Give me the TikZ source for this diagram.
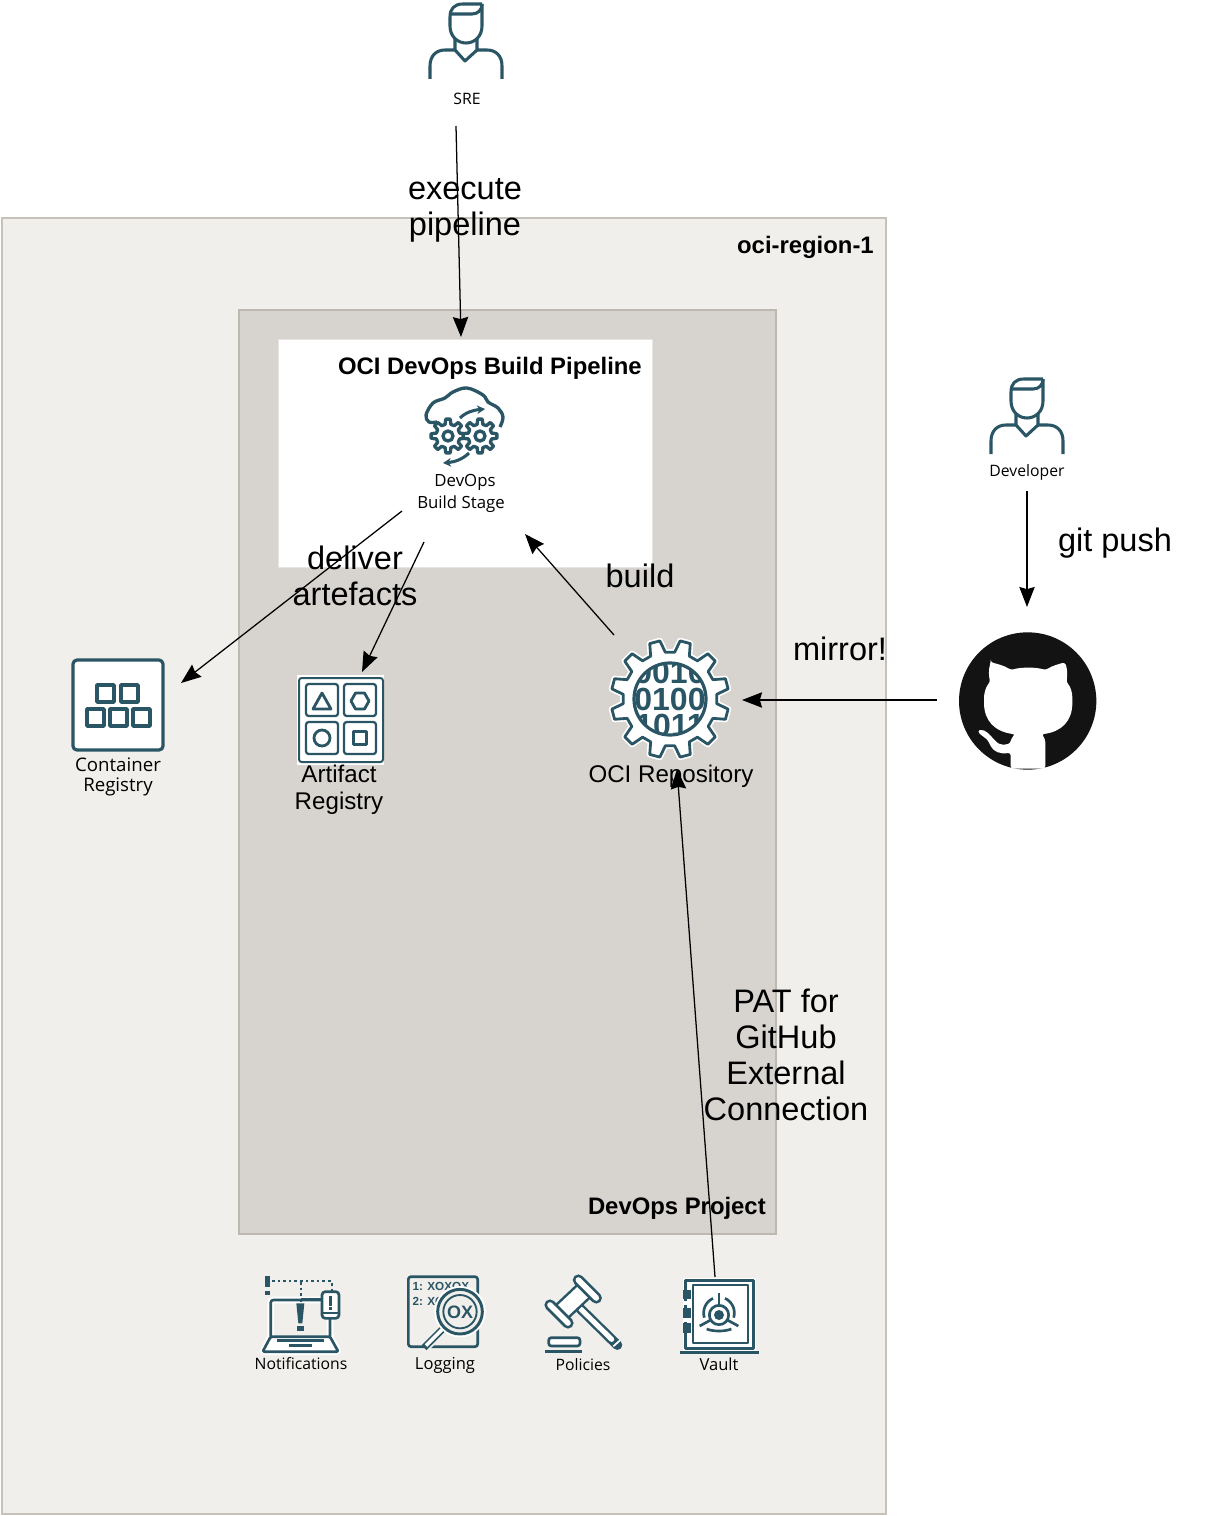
\documentclass[tikz,border=0pt]{standalone}
\usepackage{fontspec}
\setmainfont{Liberation Sans}
\newfontfamily\iconfont{Open Sans}
\usetikzlibrary{arrows.meta}
\definecolor{teal}{HTML}{2A5565}
\definecolor{regionbg}{HTML}{F0EFEB}
\definecolor{regionln}{HTML}{C6C2BA}
\definecolor{projbg}{HTML}{D7D4CF}
\definecolor{projln}{HTML}{BDB9B0}
\definecolor{ghblack}{HTML}{131313}
\tikzset{
  x=.75pt,y=-.75pt,
  region/.style={draw=regionln,fill=regionbg,line width=1.4pt,outer sep=0pt},
  project/.style={draw=projln,fill=projbg,line width=1.4pt,outer sep=0pt},
  panel/.style={draw=projbg!60!white,fill=white,line width=.6pt,outer sep=0pt},
  boldlabel/.style={inner sep=0,anchor=east,font=\bfseries\fontsize{17.9}{21}\selectfont},
  biglabel/.style={inner sep=0,align=center,text=black,font=\fontsize{24.4}{27}\selectfont},
  midlabel/.style={inner sep=0,align=center,text=black,font=\fontsize{18.1}{20.6}\selectfont},
  iconlabel/.style={inner sep=0,align=center,text=black,font=\iconfont\fontsize{11.8}{15}\selectfont},
  iconline/.style={draw=teal,line width=2.1pt,line join=round},
  thinicon/.style={draw=teal,line width=1.7pt,line join=round},
  connector/.style={draw=black,line width=.95pt,-{Stealth[length=15pt,width=11.5pt,inset=1.6pt]}}
}
% #1 style, #2 centre, #3 teeth, #4 offset, #5 root radius, #6 tip radius
\newcommand{\geardraw}[6]{%
  \begin{scope}[shift={#2}]
  \draw[#1] (#4-180/#3*.62:#5)
    \foreach \k in {1,...,#3}{
      -- (#4+\k*360/#3-360/#3-180/#3*.62:#5)
      -- (#4+\k*360/#3-360/#3-180/#3*.34:#6)
      -- (#4+\k*360/#3-360/#3+180/#3*.34:#6)
      -- (#4+\k*360/#3-360/#3+180/#3*.62:#5)
    } -- cycle;
  \end{scope}}
% person icon, in pixels from its top left corner
\newcommand{\personicon}[1]{%
  \begin{scope}[shift={#1}]
  \draw[iconline,line width=2.3pt] (82,4) -- (63,4) .. controls (54,4) and (50,9) .. (50,17) -- (50,26)
     .. controls (50,36) and (57,43) .. (66,43) .. controls (75,43) and (82,36) .. (82,26) -- (82,4);
  \draw[iconline,line width=2.3pt] (50,14) -- (72,14) .. controls (78,14) and (82,10) .. (82,4);
  \draw[iconline,line width=2.3pt] (55,38) -- (55,50) -- (65,61) -- (77,50) -- (77,38);
  \draw[iconline,line width=2.3pt] (30,79) -- (30,66) .. controls (30,56) and (36,50) .. (45,50) -- (55,50);
  \draw[iconline,line width=2.3pt] (102,79) -- (102,66) .. controls (102,56) and (96,50) .. (87,50) -- (77,50);
  \end{scope}}
\begin{document}
\begin{tikzpicture}
\path[use as bounding box,fill=white] (0,0) rectangle (1218,1516);

% containers
\node[region,inner sep=0,minimum width=663pt,minimum height=972pt,anchor=north west] (regionbox) at (2,218) {};
\node[project,inner sep=0,minimum width=403pt,minimum height=693pt,anchor=north west] (projectbox) at (239,310) {};
\node[panel,inner sep=0,minimum width=280.5pt,minimum height=171pt,anchor=north west] (pipelinebox) at (278,339) {};
\node[boldlabel] (regionlabel) at (874,247) {oci-region-1};
\node[boldlabel] (pipelinelabel) at (642,368) {OCI DevOps Build Pipeline};
\node[boldlabel] (projectlabel) at (766,1208) {DevOps Project};

% persons
\personicon{(400,0)}
\personicon{(961,375)}
\node[iconlabel] (srelabel) at (467,99) {SRE};
\node[iconlabel] (devlabel) at (1027,472) {Developer};

% DevOps build stage icon
\draw[iconline,line width=2.5pt] plot[smooth,tension=.6] coordinates {(437,422) (429,422) (426,415) (433,403) (445,398) (453,392) (467,388) (483,395) (488,402) (498,408) (503,417) (500,427)};
\draw[iconline,line width=2.3pt,-{Stealth[length=6pt,width=6.5pt]}] (460,418) .. controls (466,412) and (474,410) .. (485,409);
\draw[iconline,line width=2.3pt,-{Stealth[length=6pt,width=6.5pt]}] (469,453) .. controls (463,459) and (455,462) .. (443,463);
\geardraw{iconline,line width=2.5pt,fill=white}{(448,436)}{8}{0}{12}{17}
\geardraw{iconline,line width=2.5pt,fill=white}{(480,436)}{8}{0}{12}{17}
\draw[iconline,line width=2.5pt] (448,436) circle[radius=5];
\draw[iconline,line width=2.5pt] (480,436) circle[radius=5];
\node[iconlabel,font=\iconfont\fontsize{12.6}{15}\selectfont] (stagea) at (465,482) {DevOps};
\node[iconlabel,font=\iconfont\fontsize{12.6}{15}\selectfont] (stageb) at (461,504) {Build Stage};

% container registry
\draw[iconline,line width=2.4pt,fill=white,rounded corners=3pt] (73,660) rectangle (163,750);
\foreach \ax/\ay in {97/685,121/685,87/709,110/709,133/709}
  \draw[iconline,line width=2.6pt] (\ax,\ay) rectangle ++(17,17);
\node[iconlabel,font=\iconfont\fontsize{14}{15}\selectfont] (crlabel) at (118,777) {Container\\Registry};

% artifact registry
\fill[white] (297,675) rectangle (384,765);
\draw[iconline,line width=1.5pt,rounded corners=2pt] (299,678) rectangle (383,762);
\foreach \ax/\ay in {306/684,344/684,306/722,344/722}
  \draw[iconline,line width=1.7pt,rounded corners=2pt] (\ax,\ay) rectangle ++(32,32);
\draw[iconline] (322,693) -- (331,709) -- (313,709) -- cycle;
\draw[iconline] (351,701) -- (355.5,693) -- (364.5,693) -- (369,701) -- (364.5,709) -- (355.5,709) -- cycle;
\draw[iconline] (322,738) circle[radius=8];
\draw[iconline] (353.5,731.5) rectangle (366.5,744.5);
\node[midlabel] (arlabel) at (339,790) {Artifact\\Registry};

% OCI repository icon
\geardraw{draw=white,line width=4.6pt,line join=round,fill=white}{(670,699)}{12}{15}{47}{59}
\geardraw{iconline,line width=2.1pt,fill=white}{(670,699)}{12}{15}{47}{59}
\begin{scope}
  \clip (670,699) circle[radius=36];
  \node[inner sep=0,align=center,text=teal,font=\bfseries\fontsize{24}{20.2}\selectfont] (bits) at (670,699) {0010\\0100\\1011};
\end{scope}
\draw[iconline,line width=2.4pt] (670,699) circle[radius=36];
\node[midlabel] (repolabel) at (671,776) {OCI Repository};

% GitHub mark
\begin{scope}[shift={(940,621)},x=.25pt,y=-.25pt]
  \fill[ghblack] (263,240) circle[radius=206];
  \fill[white,rounded corners=2pt] (152,124) .. controls (170,128) and (195,135) .. (212,147)
     .. controls (245,138) and (285,138) .. (318,147) .. controls (335,135) and (360,128) .. (375,124)
     .. controls (382,145) and (383,165) .. (378,182) .. controls (392,197) and (397,215) .. (397,238)
     .. controls (397,300) and (365,332) .. (304,340) .. controls (312,348) and (316,358) .. (316,372)
     -- (316,443) -- (212,443) -- (212,395) .. controls (180,400) and (160,392) .. (148,367)
     .. controls (140,352) and (125,345) .. (112,330) .. controls (135,322) and (152,345) .. (165,358)
     .. controls (178,372) and (195,372) .. (212,366) .. controls (213,355) and (218,347) .. (226,340)
     .. controls (165,332) and (132,300) .. (132,238) .. controls (132,215) and (138,197) .. (151,182)
     .. controls (146,165) and (146,145) .. (152,124) -- cycle;
\end{scope}

% notifications icon
\begin{scope}[shift={(250,1265)},x=.25pt,y=-.25pt]
  \draw[thinicon,draw=white,line width=5pt,rounded corners=2pt] (62,215) -- (62,105) -- (240,105) -- (240,215) -- (265,260) -- (38,260) -- cycle;
  \draw[thinicon,line width=2pt,rounded corners=2pt] (62,215) -- (62,105) -- (240,105) -- (240,215);
  \draw[thinicon,line width=2pt,rounded corners=1pt,fill=white] (62,215) -- (240,215) -- (265,260) -- (38,260) -- cycle;
  \draw[teal,line width=2pt] (80,226) -- (222,226);
  \draw[teal,line width=2pt] (118,241) -- (186,241);
  \draw[teal,line width=1.4pt,dash pattern=on 2pt off 2.2pt] (66,48) -- (245,48) -- (245,78);
  \draw[teal,line width=1.5pt,dash pattern=on 2.2pt off 2.2pt] (152,50) -- (152,112);
  \draw[teal,line width=1.5pt] (152,102) -- (215,102);
  \fill[teal] (46,33) rectangle (59,65);
  \fill[teal] (46,78) rectangle (59,90);
  \fill[teal] (139,115) -- (163,115) -- (157,175) -- (145,175) -- cycle;
  \fill[teal] (141,183) rectangle (161,197);
  \draw[thinicon,line width=2pt,fill=white,rounded corners=2.5pt] (216,80) rectangle (267,160);
  \draw[teal,line width=1.4pt] (216,145) -- (267,145);
  \fill[teal] (236,92) rectangle (246,122);
  \fill[teal] (236,127) rectangle (246,136);
\end{scope}
\node[iconlabel] (notiflabel) at (301,1364) {Notifications};

% logging icon
\begin{scope}[shift={(250,1265)},x=.25pt,y=-.25pt]
  \draw[thinicon,line width=2pt,rounded corners=2pt] (475,35) rectangle (683,245);
  \node[inner sep=0,anchor=west,text=teal,font=\bfseries\fontsize{8.8}{9}\selectfont] (loga) at (487,65) {1: XOXOX};
  \node[inner sep=0,anchor=west,text=teal,font=\bfseries\fontsize{8.8}{9}\selectfont] (logb) at (487,110) {2: XO};
  \draw[draw=regionbg,line width=8pt] (525,245) -- (580,190);
  \draw[draw=teal,line width=5.2pt] (522,248) -- (578,192);
  \draw[draw=white,line width=2.6pt] (528,242) -- (576,194);
  \draw[teal,line width=1.6pt,fill=regionbg,draw=white] (630,140) circle[radius=74];
  \draw[thinicon,line width=2.2pt,fill=regionbg] (630,140) circle[radius=67];
  \draw[thinicon,line width=1.4pt] (630,140) circle[radius=50];
  \node[inner sep=0,text=teal,font=\bfseries\fontsize{13.5}{14}\selectfont] (logc) at (630,141) {OX};
\end{scope}
\node[iconlabel,font=\iconfont\fontsize{12.4}{15}\selectfont] (loglabel) at (445,1365) {Logging};

% policies icon
\begin{scope}[shift={(530,1265)},x=.25pt,y=-.25pt]
  \draw[teal,line width=7.4pt,line cap=round] (150,130) -- (262,240);
  \draw[white,line width=3.8pt,line cap=round] (152,132) -- (245,223);
  \draw[white,line width=1.3pt] (250,244) -- (270,226);
  \draw[teal,line width=15pt] (87,148) -- (170,70);
  \draw[white,line width=11.2pt] (87,148) -- (170,70);
  \foreach \ca/\cb in {145/45,60/120}{
    \draw[teal,line width=8.4pt,line cap=round] (\ca,\cb) -- ++(54,54);
    \draw[white,line width=4.2pt,line cap=round] (\ca,\cb) -- ++(54,54);
  }
  \draw[thinicon,line width=2pt,fill=white,rounded corners=2pt] (56,218) rectangle (150,243);
  \draw[teal,line width=2pt] (45,260) -- (157,260);
\end{scope}
\node[iconlabel] (pollabel) at (583,1365) {Policies};

% vault icon
\begin{scope}[shift={(530,1265)},x=.25pt,y=-.25pt]
  \fill[white] (458,38) rectangle (677,258);
  \draw[thinicon,line width=2.4pt] (467,46) rectangle (670,250);
  \draw[thinicon,line width=1.6pt] (488,60) rectangle (655,235);
  \foreach \hy in {75,130,175}
    \fill[teal] (458,\hy) rectangle (482,\hy+28);
  \foreach \gy in {108,160}
    \fill[white] (458,\gy) rectangle (476,\gy+12);
  \draw[teal,line width=2pt] (450,262) -- (688,262);
  \fill[teal] (567,150) circle[radius=15];
  \draw[thinicon,line width=2pt] (567,150) circle[radius=29];
  \draw[teal,line width=2pt] (567,85) -- (567,122);
  \draw[teal,line width=2pt] (509,183) -- (542,165);
  \draw[teal,line width=2pt] (625,183) -- (592,165);
  \draw[teal,line width=2pt] (530,192) .. controls (550,200) and (584,200) .. (604,192);
  \draw[teal,line width=2pt] (523,158) .. controls (516,135) and (527,110) .. (549,100);
  \draw[teal,line width=2pt] (611,158) .. controls (618,135) and (607,110) .. (585,100);
\end{scope}
\node[iconlabel,font=\iconfont\fontsize{12.4}{15}\selectfont] (vaultlabel) at (719,1364) {Vault};

% connector ends
\coordinate (sreout) at (456,126);
\coordinate (pipelinein) at (461,337);
\coordinate (stageleft) at (402,511);
\coordinate (crin) at (181,683);
\coordinate (stagedown) at (424,542);
\coordinate (arin) at (362,672);
\coordinate (repoup) at (614,635);
\coordinate (stagein) at (525,534);
\coordinate (ghout) at (937,700);
\coordinate (repoin) at (742,700);
\coordinate (devout) at (1027,491);
\coordinate (ghin) at (1027,607);
\coordinate (vaultout) at (715,1277);
\coordinate (repobottom) at (677,769);

% connector labels
\node[biglabel] (execlabel) at (465,210) {execute\\pipeline};
\node[biglabel] (deliverlabel) at (355,576) {deliver\\artefacts};
\node[biglabel] (buildlabel) at (640,576) {build};
\node[biglabel] (mirrorlabel) at (840,649) {mirror!};
\node[biglabel] (pushlabel) at (1115,543) {git push};
\node[biglabel] (patlabel) at (786,1055) {PAT for\\GitHub\\External\\Connection};

% connectors
\draw[connector] (sreout) -- (pipelinein);
\draw[connector] (stageleft) -- (crin);
\draw[connector] (stagedown) -- (arin);
\draw[connector] (repoup) -- (stagein);
\draw[connector] (ghout) -- (repoin);
\draw[connector] (devout) -- (ghin);
\draw[connector] (vaultout) -- (repobottom);
\end{tikzpicture}
\end{document}
